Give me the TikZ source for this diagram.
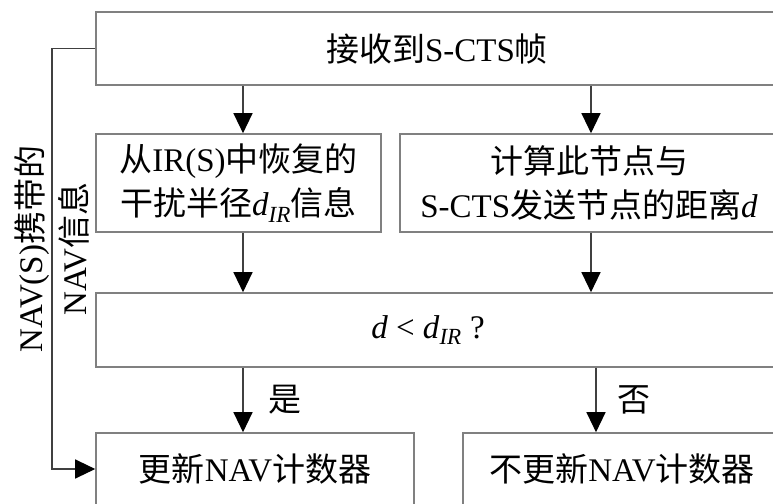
\documentclass[tikz,border=0pt]{standalone}
\usepackage{fontspec}
\setmainfont{Liberation Serif}
\newfontfamily\cjk{Noto Sans CJK SC}
\usetikzlibrary{arrows.meta}
\newcommand\zh[1]{{\cjk #1}}
\begin{document}
\begin{tikzpicture}[x=1pt,y=-1pt,
  box/.style={draw=black!50, line width=1.6pt, inner sep=0pt, align=center,
              font=\fontsize{33}{44}\selectfont},
  conn/.style={draw=black!75, line width=1.2pt},
  arr/.style={conn, -{Triangle[length=20pt,width=19pt,color=black]}},
  lbl/.style={inner sep=0pt, font=\fontsize{33}{44}\selectfont}]
\useasboundingbox (0,0) rectangle (773,503);
\clip (0,0) rectangle (773,503);

\node[box, minimum width=682pt, minimum height=73pt] (top) at (437,48.5)
  {\zh{接收到}S-CTS\zh{帧}};
\node[box, minimum width=285pt, minimum height=98pt] (ir) at (238.5,183)
  {\zh{从}IR(S)\zh{中恢复的}\\\zh{干扰半径}\textit{d}\textsubscript{\textit{IR}}\zh{信息}};
\node[box, minimum width=378pt, minimum height=98pt] (dist) at (589,183)
  {\zh{计算此节点与}\\S-CTS\zh{发送节点的距离}\textit{d}};
\node[box, minimum width=690pt, minimum height=74pt] (cmp) at (441,330)
  {\hspace*{-26pt}\textit{d} < \textit{d}\textsubscript{\textit{IR}} ?};
\node[box, minimum width=318pt, minimum height=72pt] (yes) at (255,469)
  {\zh{更新}NAV\zh{计数器}};
\node[box, minimum width=318pt, minimum height=72pt] (no) at (622,469)
  {\zh{不更新}NAV\zh{计数器}};

\coordinate (xl) at (243,0);
\coordinate (xr) at (591,0);
\coordinate (xn) at (596,0);
\coordinate (xf) at (52,0);

\draw[arr] (top.south -| xl) -- (ir.north -| xl);
\draw[arr] (top.south -| xr) -- (dist.north -| xr);
\draw[arr] (ir.south -| xl) -- (cmp.north -| xl);
\draw[arr] (dist.south -| xr) -- (cmp.north -| xr);
\draw[arr] (cmp.south -| xl) -- node[lbl, right=25pt] (yeslbl) {\zh{是}} (yes.north -| xl);
\draw[arr] (cmp.south -| xn) -- node[lbl, right=21pt] (nolbl) {\zh{否}} (no.north -| xn);

\draw[arr] (top.west) -- (top.west -| xf) -- (yes.west -| xf) -- (yes.west);
\node[lbl, rotate=90, align=center] (navlbl) at (52,249)
  {NAV(S)\zh{携带的}\\NAV\zh{信息}};
\end{tikzpicture}
\end{document}
